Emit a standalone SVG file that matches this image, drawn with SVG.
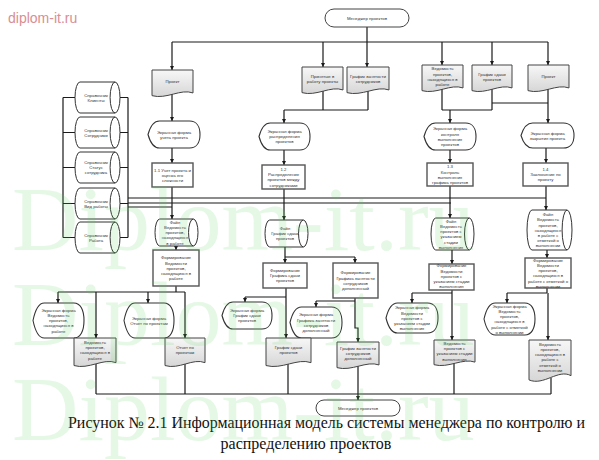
<svg xmlns="http://www.w3.org/2000/svg" width="599" height="460" viewBox="0 0 599 460">
<style>
.t{font-family:"Liberation Sans",Arial,sans-serif;font-size:4.3px;fill:#333;text-anchor:middle}
.n{fill:#fff;stroke:#444;stroke-width:1}
.p{fill:#fff;stroke:#555;stroke-width:1.4}
.c{fill:none;stroke:#1a1a1a;stroke-width:1.2}
.a{marker-end:url(#ah)}
.cap{font-family:"Liberation Serif","Times New Roman",serif;font-size:16px;fill:#111}
.wm{font-family:"Liberation Serif","Times New Roman",serif;font-size:92px;fill:#55d455;opacity:0.15}
</style>
<defs>
<linearGradient id="docg" x1="0" y1="0" x2="0" y2="1"><stop offset="0" stop-color="#f7f7f7"/><stop offset="1" stop-color="#d6d6d6"/></linearGradient>
<path id="doc" d="M0,0 H1 V0.85 C0.7,0.68 0.35,1.1 0,0.95 Z" fill="url(#docg)" stroke="#444" stroke-width="1" vector-effect="non-scaling-stroke"/>
<path id="disp" d="M0,0.5 C0.05,0.15 0.12,0 0.22,0 H0.8 C0.93,0 1,0.2 1,0.5 C1,0.8 0.93,1 0.8,1 H0.22 C0.12,1 0.05,0.85 0,0.5 Z" fill="#fff" stroke="#333" stroke-width="1.1" vector-effect="non-scaling-stroke"/>
<path id="cyl" d="M0.11,0 H0.89 A0.11,0.5 0 0 1 0.89,1 H0.11 A0.11,0.5 0 0 1 0.11,0 Z M0.89,0 A0.11,0.5 0 0 0 0.89,1" fill="#fff" stroke="#333" stroke-width="1" vector-effect="non-scaling-stroke"/>
<marker id="ah" viewBox="0 0 6 6" refX="6" refY="3" markerWidth="4.5" markerHeight="4.5" markerUnits="userSpaceOnUse" orient="auto"><path d="M0,0 L6,3 L0,6 Z" fill="#1a1a1a"/></marker>
</defs>
<rect width="599" height="460" fill="#fff"/>
<text x="8" y="23" font-family="Liberation Sans,Arial,sans-serif" font-size="14" fill="#d98e93">diplom-it.ru</text>

<g id="connectors">
<path class="c" d="M367,27 V42 M172,42 H548"/>
<path class="c a" d="M172,42 V70"/>
<path class="c a" d="M323,42 V67"/>
<path class="c a" d="M367,42 V67"/>
<path class="c a" d="M442,42 V65"/>
<path class="c a" d="M492,42 V65"/>
<path class="c a" d="M548,42 V65"/>
<path class="c a" d="M172,94 V121"/>
<path class="c a" d="M172,148 V163"/>
<path class="c a" d="M172,187 V219"/>
<path class="c a" d="M176,246 V250"/>
<path class="c" d="M176,286 V292 M58,292 H185"/>
<path class="c a" d="M58,292 V303"/>
<path class="c a" d="M96,292 V338"/>
<path class="c a" d="M148,292 V303"/>
<path class="c a" d="M185,292 V338"/>
<path class="c" d="M96,364 V394 M185,364 V394 M96,394 H551"/>
<path class="c" d="M63,97.5 V237.5 M63,97.5 H75 M63,132.5 H75 M63,167.5 H75 M63,203.5 H75 M63,237.5 H75"/>
<path class="c" d="M128,97.5 V237.5 M120,97.5 H128 M120,132.5 H128 M120,167.5 H128 M120,203.5 H128 M120,237.5 H128"/>
<path class="c" d="M128,198 H546 M128,203 H451 M128,207 H172"/>
<path class="c" d="M323,91 V110 M368,91 V110 M284,110 H368"/>
<path class="c a" d="M284,110 V123"/>
<path class="c a" d="M284,150 V165"/>
<path class="c a" d="M284,189 V220"/>
<path class="c" d="M285,247 V257 M285,257 H355"/>
<path class="c a" d="M285,257 V263"/>
<path class="c a" d="M355,257 V263"/>
<path class="c" d="M286,288 V297 M245,297 H286"/>
<path class="c a" d="M245,297 V302"/>
<path class="c a" d="M286,297 V338"/>
<path class="c" d="M288,364 V394"/>
<path class="c" d="M355,298 V301 M316,301 H355"/>
<path class="c a" d="M316,301 V307"/>
<path class="c a" d="M355,301 V328 H358 V342"/>
<path class="c" d="M358,366 V394"/>
<path class="c a" d="M358,394 V400"/>
<path class="c" d="M442,89 V110 M492,89 V110 M442,110 H492 M492,103 H548"/>
<path class="c a" d="M450,110 V123"/>
<path class="c a" d="M450,150 V163"/>
<path class="c a" d="M450,186 V218"/>
<path class="c a" d="M452,250 V264"/>
<path class="c" d="M452,290 V293 M412,293 H452"/>
<path class="c a" d="M412,293 V303"/>
<path class="c a" d="M452,293 V340"/>
<path class="c" d="M454,363 V394"/>
<path class="c a" d="M548,89 V123"/>
<path class="c a" d="M546,148 V163"/>
<path class="c a" d="M546,186 V210"/>
<path class="c a" d="M547,250 V258"/>
<path class="c" d="M547,288 V293 M507,293 H547"/>
<path class="c a" d="M507,293 V303"/>
<path class="c a" d="M548,293 V340"/>
<path class="c" d="M551,378 V394"/>
</g>

<g id="manager-top"><rect x="325" y="9" width="84" height="18" rx="9" class="n"/><text class="t" x="367" y="19.7" font-size="5.2">Менеджер проектов</text></g>
<g id="manager-bottom"><rect x="316" y="400" width="84" height="16" rx="8" class="n"/><text class="t" x="358" y="409.7" font-size="5.2">Менеджер проектов</text></g>

<g id="doc-project-1"><use href="#doc" transform="translate(152,70) scale(41,27)"/><text class="t" x="172.5" y="83.2">Проект</text></g>
<g id="doc-accepted"><use href="#doc" transform="translate(302,67) scale(41,27)"/><text class="t"><tspan x="322.5" y="77.6">Принятые в</tspan><tspan x="322.5" dy="5.2">работу проекты</tspan></text></g>
<g id="doc-employment"><use href="#doc" transform="translate(347,67) scale(42,27)"/><text class="t"><tspan x="368" y="77.6">График занятости</tspan><tspan x="368" dy="5.2">сотрудников</tspan></text></g>
<g id="doc-statement"><use href="#doc" transform="translate(422,65) scale(41,27)"/><text class="t"><tspan x="442.5" y="70.4">Ведомость</tspan><tspan x="442.5" dy="5.2">проектов,</tspan><tspan x="442.5" dy="5.2">находящихся в</tspan><tspan x="442.5" dy="5.2">работе</tspan></text></g>
<g id="doc-schedule"><use href="#doc" transform="translate(472,65) scale(40,27)"/><text class="t"><tspan x="492" y="75.6">График сдачи</tspan><tspan x="492" dy="5.2">проектов</tspan></text></g>
<g id="doc-project-2"><use href="#doc" transform="translate(528,65) scale(41,27)"/><text class="t" x="548.5" y="78.2">Проект</text></g>

<g id="screen-accounting"><use href="#disp" transform="translate(148,121) scale(52,27)"/><text class="t"><tspan x="174" y="133.6">Экранная форма</tspan><tspan x="174" dy="5.2">учета проекта</tspan></text></g>
<g id="screen-distribution"><use href="#disp" transform="translate(259,123) scale(51,27)"/><text class="t"><tspan x="284.5" y="133">Экранная форма</tspan><tspan x="284.5" dy="5.2">распределения</tspan><tspan x="284.5" dy="5.2">проектов</tspan></text></g>
<g id="screen-control"><use href="#disp" transform="translate(424,123) scale(52,27)"/><text class="t"><tspan x="450" y="130.4">Экранная форма</tspan><tspan x="450" dy="5.2">контроля</tspan><tspan x="450" dy="5.2">выполнения</tspan><tspan x="450" dy="5.2">проектов</tspan></text></g>
<g id="screen-closing"><use href="#disp" transform="translate(521,123) scale(53,25)"/><text class="t"><tspan x="547.5" y="134.6">Экранная форма</tspan><tspan x="547.5" dy="5.2">закрытия проекта</tspan></text></g>

<g id="proc-1-1"><rect class="p" x="152" y="163" width="41" height="24"/><text class="t"><tspan x="172.5" y="171.5">1.1 Учет проекта и</tspan><tspan x="172.5" dy="5.2">оценка его</tspan><tspan x="172.5" dy="5.2">сложности</tspan></text></g>
<g id="proc-1-2"><rect class="p" x="262" y="165" width="43" height="24"/><text class="t"><tspan x="283.5" y="170.9">1.2</tspan><tspan x="283.5" dy="5.2">Распределение</tspan><tspan x="283.5" dy="5.2">проектов между</tspan><tspan x="283.5" dy="5.2">сотрудниками</tspan></text></g>
<g id="proc-1-3"><rect class="p" x="427" y="163" width="46" height="23"/><text class="t"><tspan x="450" y="168.4">1.3</tspan><tspan x="450" dy="5.2">Контроль</tspan><tspan x="450" dy="5.2">выполнения</tspan><tspan x="450" dy="5.2">графика проектов</tspan></text></g>
<g id="proc-1-4"><rect class="p" x="523" y="163" width="45" height="23"/><text class="t"><tspan x="545.5" y="171">1.4</tspan><tspan x="545.5" dy="5.2">Заключение по</tspan><tspan x="545.5" dy="5.2">проекту</tspan></text></g>

<g id="ref-clients"><use href="#cyl" transform="translate(75,82) scale(45,31)"/><text class="t"><tspan x="96" y="96.6">Справочник</tspan><tspan x="96" dy="5.2">Клиенты</tspan></text></g>
<g id="ref-employees"><use href="#cyl" transform="translate(75,117) scale(45,31)"/><text class="t"><tspan x="96" y="131.6">Справочник</tspan><tspan x="96" dy="5.2">Сотрудники</tspan></text></g>
<g id="ref-status"><use href="#cyl" transform="translate(75,152) scale(45,31)"/><text class="t"><tspan x="96" y="164">Справочник</tspan><tspan x="96" dy="5.2">Статус</tspan><tspan x="96" dy="5.2">сотрудника</tspan></text></g>
<g id="ref-worktype"><use href="#cyl" transform="translate(75,188) scale(45,31)"/><text class="t"><tspan x="96" y="202.6">Справочник</tspan><tspan x="96" dy="5.2">Вид работы</tspan></text></g>
<g id="ref-work"><use href="#cyl" transform="translate(75,222) scale(45,31)"/><text class="t"><tspan x="96" y="236.6">Справочник</tspan><tspan x="96" dy="5.2">Работа</tspan></text></g>

<g id="file-statement"><use href="#cyl" transform="translate(155,219) scale(43,27)"/><text class="t"><tspan x="175" y="223.8">Файл</tspan><tspan x="175" dy="5.2">Ведомость</tspan><tspan x="175" dy="5.2">проектов,</tspan><tspan x="175" dy="5.2">находящихся</tspan><tspan x="175" dy="5.2">в работе</tspan></text></g>
<g id="file-schedule"><use href="#cyl" transform="translate(265,220) scale(43,27)"/><text class="t"><tspan x="285" y="230">Файл</tspan><tspan x="285" dy="5.2">График сдачи</tspan><tspan x="285" dy="5.2">проектов</tspan></text></g>
<g id="file-stage"><use href="#cyl" transform="translate(431,218) scale(43,32)"/><text class="t"><tspan x="451" y="222.7">Файл</tspan><tspan x="451" dy="5.2">Ведомость</tspan><tspan x="451" dy="5.2">проектов с</tspan><tspan x="451" dy="5.2">указанием</tspan><tspan x="451" dy="5.2">стадии</tspan><tspan x="451" dy="5.2">выполнения</tspan></text></g>
<g id="file-done"><use href="#cyl" transform="translate(527,210) scale(45,40)"/><text class="t"><tspan x="548" y="216.1">Файл</tspan><tspan x="548" dy="5.2">Ведомость</tspan><tspan x="548" dy="5.2">проектов,</tspan><tspan x="548" dy="5.2">находящихся</tspan><tspan x="548" dy="5.2">в работе с</tspan><tspan x="548" dy="5.2">отметкой о</tspan><tspan x="548" dy="5.2">выполнении</tspan></text></g>

<g id="form-statement"><rect class="p" x="153" y="250" width="46" height="36"/><text class="t"><tspan x="176" y="259.3">Формирование</tspan><tspan x="176" dy="5.2">Ведомости</tspan><tspan x="176" dy="5.2">проектов,</tspan><tspan x="176" dy="5.2">находящихся в</tspan><tspan x="176" dy="5.2">работе</tspan></text></g>
<g id="form-schedule"><rect class="p" x="263" y="263" width="44" height="25"/><text class="t"><tspan x="285" y="272">Формирование</tspan><tspan x="285" dy="5.2">Графика сдачи</tspan><tspan x="285" dy="5.2">проектов</tspan></text></g>
<g id="form-employment"><rect class="p" x="333" y="263" width="45" height="35"/><text class="t"><tspan x="355.5" y="274.4">Формирование</tspan><tspan x="355.5" dy="5.2">Графика занятости</tspan><tspan x="355.5" dy="5.2">сотрудников</tspan><tspan x="355.5" dy="5.2">дополненный</tspan></text></g>
<g id="form-stage"><rect class="p" x="429" y="264" width="45" height="26"/><text class="t"><tspan x="451.5" y="267.3">Формирование</tspan><tspan x="451.5" dy="5.2">Ведомости</tspan><tspan x="451.5" dy="5.2">проектов с</tspan><tspan x="451.5" dy="5.2">указанием стадии</tspan><tspan x="451.5" dy="5.2">выполнения</tspan></text></g>
<g id="form-done"><rect class="p" x="525" y="258" width="46" height="30"/><text class="t" font-size="4.2"><tspan x="548" y="261.7">Формирование</tspan><tspan x="548" dy="5.2">Ведомости</tspan><tspan x="548" dy="5.2">проектов,</tspan><tspan x="548" dy="5.2">находящихся в</tspan><tspan x="548" dy="5.2">работе с отметкой о</tspan><tspan x="548" dy="5.2">выполнении</tspan></text></g>

<g id="screen-statement"><use href="#disp" transform="translate(33,303) scale(51,35)"/><text class="t"><tspan x="58.5" y="311.8">Экранная форма</tspan><tspan x="58.5" dy="5.2">Ведомость</tspan><tspan x="58.5" dy="5.2">проектов,</tspan><tspan x="58.5" dy="5.2">находящихся в</tspan><tspan x="58.5" dy="5.2">работе</tspan></text></g>
<g id="screen-report"><use href="#disp" transform="translate(124,303) scale(50,35)"/><text class="t"><tspan x="149" y="319.6">Экранная форма</tspan><tspan x="149" dy="5.2">Отчет по проектам</tspan></text></g>
<g id="screen-schedule"><use href="#disp" transform="translate(222,302) scale(50,27)"/><text class="t"><tspan x="247" y="312">Экранная форма</tspan><tspan x="247" dy="5.2">График сдачи</tspan><tspan x="247" dy="5.2">проектов</tspan></text></g>
<g id="screen-employment"><use href="#disp" transform="translate(290,307) scale(52,31)"/><text class="t"><tspan x="316" y="316.4">Экранная форма</tspan><tspan x="316" dy="5.2">Графика занятости</tspan><tspan x="316" dy="5.2">сотрудников</tspan><tspan x="316" dy="5.2">дополненный</tspan></text></g>
<g id="screen-stage"><use href="#disp" transform="translate(386,303) scale(52,30)"/><text class="t"><tspan x="412" y="309.3">Экранная форма</tspan><tspan x="412" dy="5.2">Ведомости</tspan><tspan x="412" dy="5.2">проектов с</tspan><tspan x="412" dy="5.2">указанием стадии</tspan><tspan x="412" dy="5.2">выполнения</tspan></text></g>
<g id="screen-done"><use href="#disp" transform="translate(484,303) scale(51,32)"/><text class="t"><tspan x="509.5" y="307.7">Экранная форма</tspan><tspan x="509.5" dy="5.2">Ведомость</tspan><tspan x="509.5" dy="5.2">проектов,</tspan><tspan x="509.5" dy="5.2">находящихся в</tspan><tspan x="509.5" dy="5.2">работе с отметкой</tspan><tspan x="509.5" dy="5.2">о выполнении</tspan></text></g>

<g id="doc-statement-out"><use href="#doc" transform="translate(74,338) scale(42,29)"/><text class="t"><tspan x="95" y="343.9">Ведомость</tspan><tspan x="95" dy="5.2">проектов,</tspan><tspan x="95" dy="5.2">находящихся в</tspan><tspan x="95" dy="5.2">работе</tspan></text></g>
<g id="doc-report"><use href="#doc" transform="translate(165,338) scale(40,29)"/><text class="t"><tspan x="185" y="349.1">Отчет по</tspan><tspan x="185" dy="5.2">проектам</tspan></text></g>
<g id="doc-schedule-out"><use href="#doc" transform="translate(266,338) scale(45,29)"/><text class="t"><tspan x="288.5" y="349.1">График сдачи</tspan><tspan x="288.5" dy="5.2">проектов</tspan></text></g>
<g id="doc-employment-out"><use href="#doc" transform="translate(337,342) scale(42,27)"/><text class="t"><tspan x="358" y="349.5">График занятости</tspan><tspan x="358" dy="5.2">сотрудников</tspan><tspan x="358" dy="5.2">дополненный</tspan></text></g>
<g id="doc-stage-out"><use href="#doc" transform="translate(434,340) scale(41,26)"/><text class="t"><tspan x="454.5" y="344.9">Ведомость</tspan><tspan x="454.5" dy="5.2">проектов с</tspan><tspan x="454.5" dy="5.2">указанием стадии</tspan><tspan x="454.5" dy="5.2">выполнения</tspan></text></g>
<g id="doc-done-out"><use href="#doc" transform="translate(529,340) scale(42,42)"/><text class="t"><tspan x="550" y="345.7">Ведомость</tspan><tspan x="550" dy="5.2">проектов,</tspan><tspan x="550" dy="5.2">находящихся в</tspan><tspan x="550" dy="5.2">работе с</tspan><tspan x="550" dy="5.2">отметкой о</tspan><tspan x="550" dy="5.2">выполнении</tspan></text></g>

<text class="cap" x="68" y="428" textLength="517" lengthAdjust="spacingAndGlyphs">Рисунок № 2.1 Информационная модель системы менеджера по контролю и</text>
<text class="cap" x="306" y="449" text-anchor="middle">распределению проектов</text>

<g id="watermark">
<text class="wm" x="12" y="250">Diplom-it.ru</text>
<text class="wm" x="12" y="345">Diplom-it.ru</text>
<text class="wm" x="12" y="440">Diplom-it.ru</text>
</g>
</svg>
